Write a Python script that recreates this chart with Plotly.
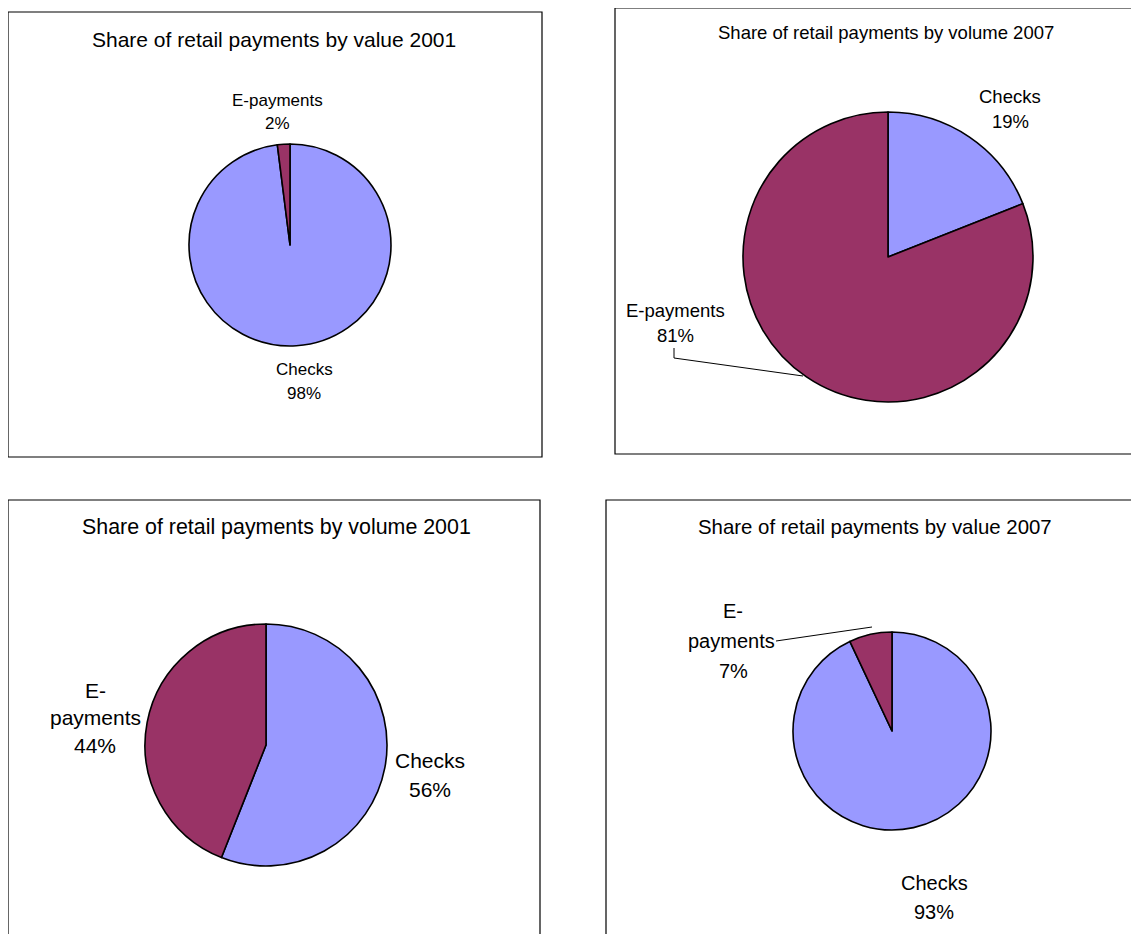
import plotly.graph_objects as go

# The page body has an 8px default margin, so the figure is offset by 8px.
OFF = 8
W, H = 1139 - OFF, 934 - OFF

# ---- data ----
categories = ["Checks", "E-payments"]
value_2001 = [98, 2]
volume_2007 = [19, 81]
volume_2001 = [56, 44]
value_2007 = [93, 7]
titles = [
    "Share of retail payments by value 2001",
    "Share of retail payments by volume 2007",
    "Share of retail payments by volume 2001",
    "Share of retail payments by value 2007",
]
colors = ["#9999FF", "#993366"]
FONT = "Liberation Sans, Arial, sans-serif"


def px(x):
    return (x - OFF) / W


def py(y):
    return 1 - (y - OFF) / H


# layout per panel (reference pixel positions): box, title, pie centre/radius, label lines
panels = [
    dict(values=value_2001, title=titles[0], box=(8, 12, 542, 457), tpos=(274, 39), tsize=21,
         c=(290, 245), r=101, lsize=17,
         labels={0: [(304, 370), (304, 393)], 1: [(277, 101), (277, 123)]},
         split={}),
    dict(values=volume_2007, title=titles[1], box=(615, 8, 1150, 454), tpos=(886, 32), tsize=18.5,
         c=(888, 257), r=145, lsize=18.5,
         labels={0: [(1010, 97), (1010, 121)], 1: [(675, 310), (675, 335)]},
         split={}),
    dict(values=volume_2001, title=titles[2], box=(8, 500, 540, 950), tpos=(276, 527), tsize=21.4,
         c=(266, 745), r=121, lsize=21,
         labels={0: [(430, 760), (430, 789)], 1: [(95, 690), (95, 717), (95, 745)]},
         split={1: True}),
    dict(values=value_2007, title=titles[3], box=(606, 500, 1150, 950), tpos=(875, 527), tsize=20.4,
         c=(892, 731), r=99, lsize=20,
         labels={0: [(934, 883), (934, 912)], 1: [(733, 611), (731, 641), (733, 671)]},
         split={1: True}),
]

fig = go.Figure()
annotations = []
shapes = []

for p in panels:
    cx, cy = p["c"]
    r = p["r"]
    fig.add_trace(go.Pie(
        labels=categories, values=p["values"], sort=False, direction="clockwise",
        rotation=0, textinfo="none", textposition="none", hoverinfo="label+percent",
        marker=dict(colors=colors, line=dict(color="black", width=1.6)),
        domain=dict(x=[px(cx - r), px(cx + r)], y=[py(cy + r), py(cy - r)]),
        showlegend=False,
    ))
    x0, y0, x1, y1 = p["box"]
    shapes.append(dict(type="rect", xref="paper", yref="paper",
                       x0=px(x0), x1=px(x1), y0=py(y1), y1=py(y0),
                       line=dict(color="black", width=1.2), fillcolor="rgba(0,0,0,0)"))
    annotations.append(dict(text=p["title"], x=px(p["tpos"][0]), y=py(p["tpos"][1]),
                            xref="paper", yref="paper", showarrow=False,
                            xanchor="center", yanchor="middle",
                            font=dict(family=FONT, size=p["tsize"], color="black")))
    for i, cat in enumerate(categories):
        if p["split"].get(i):
            lines = ["E-", "payments", f"{p['values'][i]}%"]
        else:
            lines = [cat, f"{p['values'][i]}%"]
        for txt, (lx, ly) in zip(lines, p["labels"][i]):
            annotations.append(dict(text=txt, x=px(lx), y=py(ly), xref="paper", yref="paper",
                                    showarrow=False, xanchor="center", yanchor="middle",
                                    font=dict(family=FONT, size=p["lsize"], color="black")))

# leader lines
leaders = [
    [(674, 348), (674, 358), (803, 376)],
    [(776, 641), (872, 627)],
]
for pts in leaders:
    path = "M " + " L ".join(f"{px(x)},{py(y)}" for x, y in pts)
    shapes.append(dict(type="path", xref="paper", yref="paper", path=path,
                       line=dict(color="black", width=1)))

fig.update_layout(
    width=W, height=H, margin=dict(l=0, r=0, t=0, b=0),
    paper_bgcolor="white", plot_bgcolor="white",
    annotations=annotations, shapes=shapes,
    font=dict(family=FONT),
)

fig.write_html("out.html")
